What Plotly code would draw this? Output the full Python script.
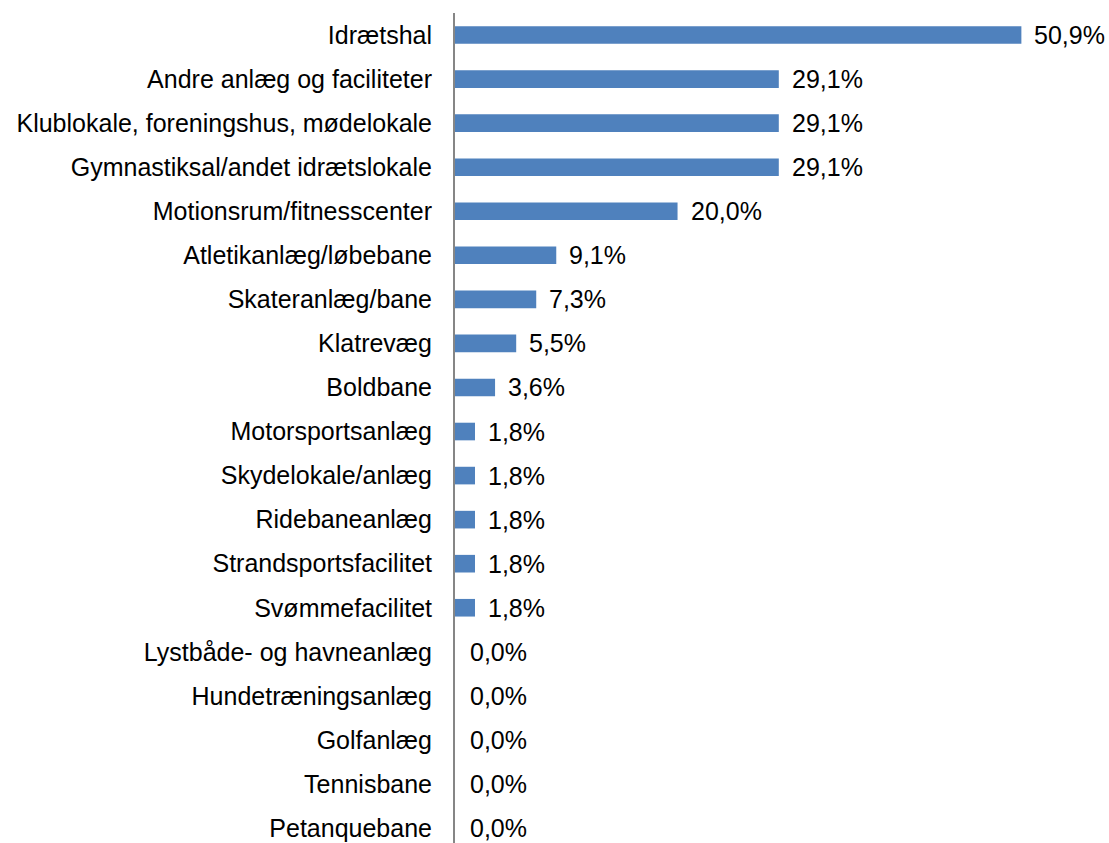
import plotly.graph_objects as go

categories = [
    "Idrætshal",
    "Andre anlæg og faciliteter",
    "Klublokale, foreningshus, mødelokale",
    "Gymnastiksal/andet idrætslokale",
    "Motionsrum/fitnesscenter",
    "Atletikanlæg/løbebane",
    "Skateranlæg/bane",
    "Klatrevæg",
    "Boldbane",
    "Motorsportsanlæg",
    "Skydelokale/anlæg",
    "Ridebaneanlæg",
    "Strandsportsfacilitet",
    "Svømmefacilitet",
    "Lystbåde- og havneanlæg",
    "Hundetræningsanlæg",
    "Golfanlæg",
    "Tennisbane",
    "Petanquebane",
]
values = [50.9, 29.1, 29.1, 29.1, 20.0, 9.1, 7.3, 5.5, 3.6, 1.8, 1.8, 1.8, 1.8, 1.8, 0.0, 0.0, 0.0, 0.0, 0.0]
labels = [f"{v:.1f}%".replace(".", ",") for v in values]

FONT = "Liberation Sans, Arial, sans-serif"
FS = 25

fig = go.Figure()
fig.add_trace(go.Bar(
    x=values, y=categories, orientation="h",
    marker=dict(color="#4F81BD", line=dict(width=0)),
    width=0.4,
    hoverinfo="skip",
))

for c, v, t in zip(categories, values, labels):
    fig.add_annotation(x=v, y=c, text=t, showarrow=False, xanchor="left",
                       yanchor="middle", xshift=11 if v > 0 else 13,
                       font=dict(family=FONT, size=FS, color="#000000"))

fig.update_layout(
    width=1109, height=843,
    margin=dict(l=455, r=42, t=13, b=0, autoexpand=False),
    plot_bgcolor="white", paper_bgcolor="white",
    showlegend=False,
    bargap=0.6,
    font=dict(family=FONT, size=FS, color="#000000"),
)
fig.update_xaxes(range=[0, 55], visible=False, showgrid=False, zeroline=False,
                 automargin=False)
fig.update_yaxes(
    categoryorder="array", categoryarray=categories[::-1],
    range=[-0.34, 18.5],
    showline=True, linecolor="#868686", linewidth=2,
    ticks="", showgrid=False, zeroline=False,
    ticklabelstandoff=16, automargin=False,
    tickfont=dict(family=FONT, size=FS, color="#000000"),
)

fig.write_html(
    "out.html",
    config={"displayModeBar": False},
    post_script="document.body.style.margin='0';document.body.style.overflow='hidden';",
)
